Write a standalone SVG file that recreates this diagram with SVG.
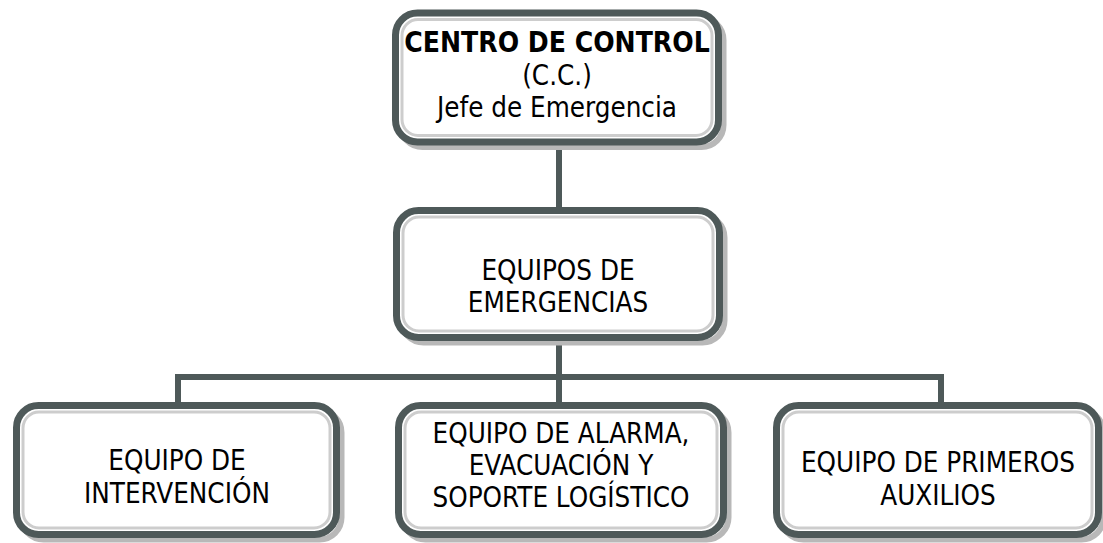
<svg xmlns="http://www.w3.org/2000/svg" width="1103" height="543" viewBox="0 0 1103 543">
<style>
.sh{fill:none;stroke:#b8b8b8;stroke-width:6}
.bx{fill:#ffffff;stroke:#4e5959;stroke-width:7}
.in{fill:none;stroke:#cdcdcd;stroke-width:3}
.t{font-family:"DejaVu Sans Condensed","DejaVu Sans",sans-serif;font-stretch:condensed;font-size:27.5px;fill:#000;text-anchor:middle}
.b{font-weight:bold;font-size:28px}
.c{fill:none;stroke:#4e5959;stroke-width:6}
</style>
<rect width="1103" height="543" fill="#ffffff"/>
<g id="connectors">
<path class="c" d="M559 142V210"/>
<path class="c" d="M559 338V405"/>
<path class="c" d="M178 405V377H941V405"/>
</g>
<g id="cc">
<rect class="sh" x="400.5" y="18" width="323" height="129" rx="22"/>
<rect class="bx" x="395.5" y="13" width="323" height="129" rx="22"/>
<rect class="in" x="402" y="19.5" width="310" height="116" rx="16"/>
<text class="t b" x="557" y="52">CENTRO DE CONTROL</text>
<text class="t" x="557" y="85">(C.C.)</text>
<text class="t" x="557" y="117">Jefe de Emergencia</text>
</g>
<g id="equipos">
<rect class="sh" x="401.5" y="215.5" width="323" height="127" rx="22"/>
<rect class="bx" x="396.5" y="210.5" width="323" height="127" rx="22"/>
<rect class="in" x="403" y="217" width="310" height="114" rx="16"/>
<text class="t" x="558" y="280">EQUIPOS DE</text>
<text class="t" x="558" y="312">EMERGENCIAS</text>
</g>
<g id="intervencion">
<rect class="sh" x="21.5" y="410.5" width="320" height="129" rx="22"/>
<rect class="bx" x="16.5" y="405.5" width="320" height="129" rx="22"/>
<rect class="in" x="23" y="412" width="307" height="116" rx="16"/>
<text class="t" x="177" y="470">EQUIPO DE</text>
<text class="t" x="177" y="503">INTERVENCIÓN</text>
</g>
<g id="alarma">
<rect class="sh" x="403.5" y="410.5" width="325" height="129" rx="22"/>
<rect class="bx" x="398.5" y="405.5" width="325" height="129" rx="22"/>
<rect class="in" x="405" y="412" width="312" height="116" rx="16"/>
<text class="t" x="561" y="443">EQUIPO DE ALARMA,</text>
<text class="t" x="561" y="475">EVACUACIÓN Y</text>
<text class="t" x="561" y="507">SOPORTE LOGÍSTICO</text>
</g>
<g id="auxilios">
<rect class="sh" x="781.5" y="410.5" width="322" height="129" rx="22"/>
<rect class="bx" x="776.5" y="405.5" width="322" height="129" rx="22"/>
<rect class="in" x="783" y="412" width="309" height="116" rx="16"/>
<text class="t" x="938" y="472">EQUIPO DE PRIMEROS</text>
<text class="t" x="938" y="505">AUXILIOS</text>
</g>
</svg>
